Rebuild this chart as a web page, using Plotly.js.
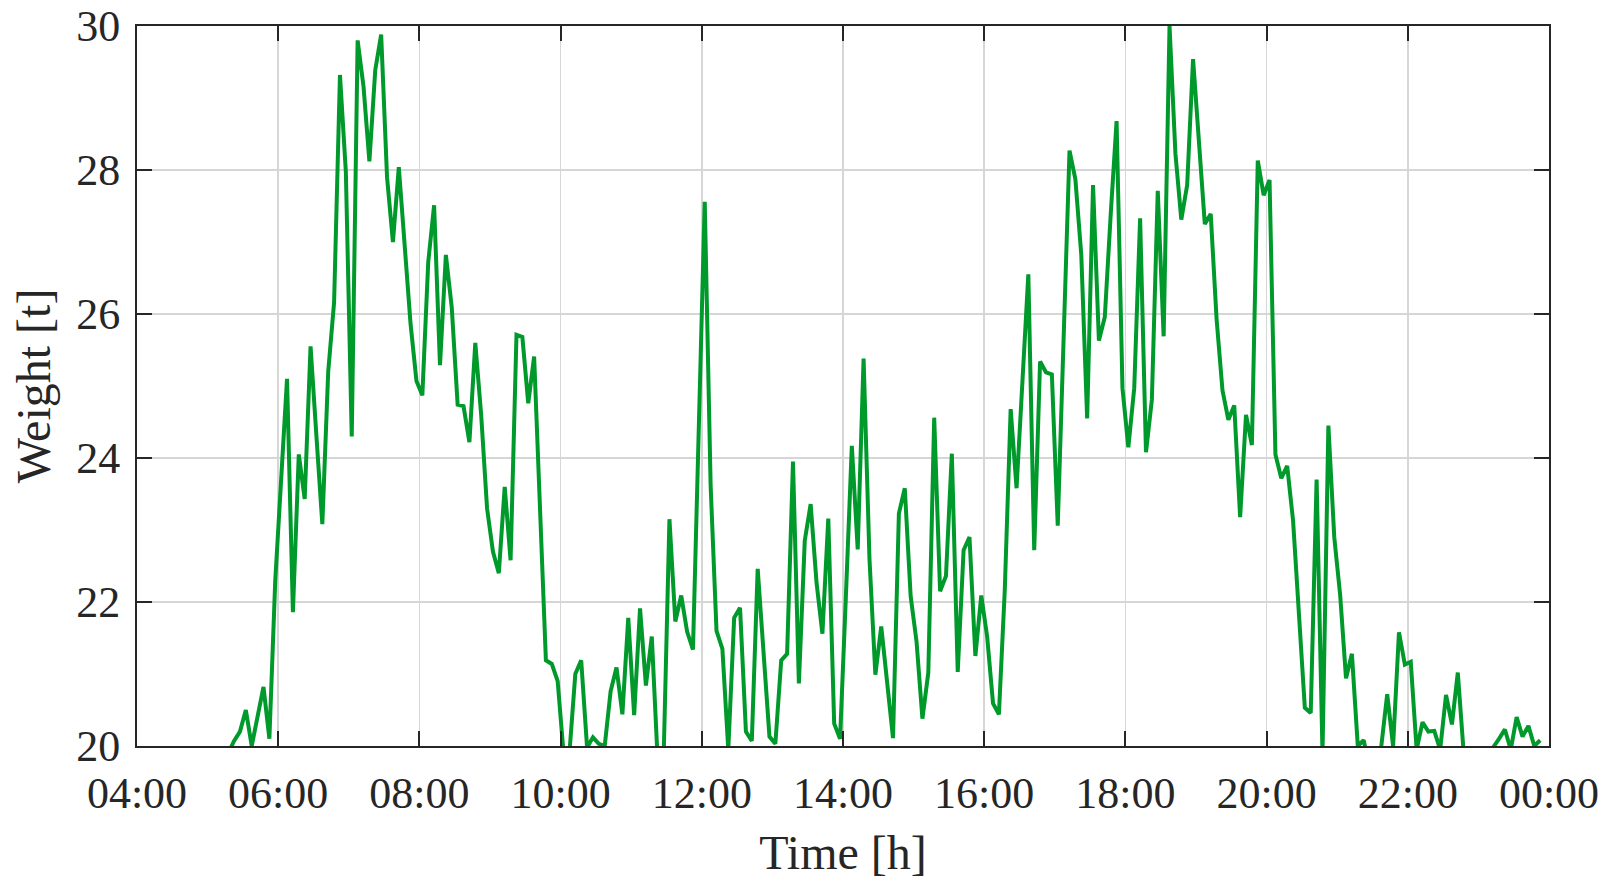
<!DOCTYPE html>
<html>
<head>
<meta charset="utf-8">
<script src="https://cdn.plot.ly/plotly-3.0.1.min.js"></script>
<style>
  html, body { margin: 0; padding: 0; background: #fff; }
  #plot { width: 1614px; height: 890px; }
</style>
</head>
<body>
<div id="plot"></div>
<script>
// 5-minute weight readings, first sample at 05:17:30 (bin centre)
var startHour = 5 + 17.5 / 60;
var stepHour = 5 / 60;

var weight = [
  19.9, 20.07, 20.2, 20.5, 20.0, 20.4, 20.82, 20.1, 22.3, 23.7,
  25.1, 21.86, 24.05, 23.43, 25.55, 24.3, 23.08, 25.2, 26.16, 29.32,
  27.97, 24.3, 29.8, 29.16, 28.12, 29.39, 29.88, 27.9, 27.0, 28.04,
  26.85, 25.86, 25.07, 24.87, 26.72, 27.51, 25.29, 26.82, 26.09, 24.74,
  24.72, 24.22, 25.6, 24.6, 23.3, 22.7, 22.4, 23.6, 22.58, 25.71,
  25.68, 24.76, 25.41, 23.3, 21.19, 21.14, 20.9, 19.9, 19.9, 21.0,
  21.19, 19.98, 20.12, 20.03, 20.0, 20.76, 21.09, 20.44, 21.78, 20.43,
  21.91, 20.84, 21.52, 19.8, 19.8, 23.15, 21.73, 22.09, 21.59, 21.34,
  24.5, 27.56, 23.62, 21.6, 21.35, 19.95, 21.78, 21.92, 20.2, 20.07,
  22.46, 21.25, 20.13, 20.03, 21.19, 21.28, 23.95, 20.87, 22.85, 23.36,
  22.27, 21.56, 23.16, 20.31, 20.1, 22.1, 24.17, 22.73, 25.38, 22.6,
  20.99, 21.66, 20.92, 20.11, 23.23, 23.58, 22.08, 21.45, 20.38, 21.02,
  24.56, 22.15, 22.36, 24.06, 21.03, 22.72, 22.9, 21.25, 22.09, 21.52,
  20.59, 20.44, 22.17, 24.68, 23.58, 25.07, 26.55, 22.72, 25.34, 25.19,
  25.16, 23.06, 25.7, 28.27, 27.87, 26.82, 24.55, 27.79, 25.63, 25.96,
  27.38, 28.68, 24.97, 24.15, 24.97, 27.33, 24.08, 24.81, 27.71, 25.69,
  30.0, 28.23, 27.31, 27.79, 29.54, 28.46, 27.25, 27.39, 25.93, 24.94,
  24.53, 24.73, 23.18, 24.6, 24.18, 28.13, 27.65, 27.86, 24.05, 23.72,
  23.89, 23.13, 21.71, 20.53, 20.46, 23.7, 19.9, 24.45, 22.9, 22.1,
  20.94, 21.28, 20.0, 20.08, 19.7, 19.8, 20.0, 20.72, 20.0, 21.58,
  21.13, 21.17, 19.95, 20.33, 20.2, 20.21, 19.95, 20.71, 20.3, 21.02,
  19.9, 19.6, 19.5, 19.6, 19.8, 19.98, 20.1, 20.23, 19.95, 20.4,
  20.13, 20.28, 20.0, 20.08
];

var tickHours = [4, 6, 8, 10, 12, 14, 16, 18, 20, 22, 24];
var tickLabels = ['04:00', '06:00', '08:00', '10:00', '12:00', '14:00',
                  '16:00', '18:00', '20:00', '22:00', '00:00'];

var hours = weight.map(function (w, i) { return startHour + i * stepHour; });

var ink = '#262626';
var font = 'Liberation Serif, Times New Roman, serif';

var trace = {
  x: hours,
  y: weight,
  type: 'scatter',
  mode: 'lines',
  line: { color: '#00992b', width: 4 },
  hoverinfo: 'x+y'
};

var layout = {
  width: 1614,
  height: 890,
  margin: { l: 137, r: 65, t: 26, b: 144 },
  paper_bgcolor: '#ffffff',
  plot_bgcolor: '#ffffff',
  showlegend: false,
  font: { family: font, size: 44, color: ink },
  xaxis: {
    range: [4, 24],
    tickvals: tickHours,
    ticktext: tickLabels,
    ticks: 'inside',
    ticklen: 15,
    tickwidth: 2,
    tickcolor: ink,
    ticklabelstandoff: 7,
    showline: true,
    linecolor: ink,
    linewidth: 2,
    mirror: 'ticks',
    showgrid: true,
    gridcolor: '#d6d6d6',
    gridwidth: 1.5,
    zeroline: false,
    tickfont: { family: font, size: 44, color: ink },
    title: { text: 'Time [h]', font: { family: font, size: 48, color: ink }, standoff: 19 }
  },
  yaxis: {
    range: [20, 30],
    dtick: 2,
    ticks: 'inside',
    ticklen: 15,
    tickwidth: 2,
    tickcolor: ink,
    ticklabelstandoff: 6,
    showline: true,
    linecolor: ink,
    linewidth: 2,
    mirror: 'ticks',
    showgrid: true,
    gridcolor: '#d6d6d6',
    gridwidth: 1.5,
    zeroline: false,
    tickfont: { family: font, size: 44, color: ink },
    title: { text: 'Weight [t]', font: { family: font, size: 48, color: ink }, standoff: 10 }
  }
};

Plotly.newPlot('plot', [trace], layout, { displayModeBar: false, staticPlot: true });
</script>
</body>
</html>
